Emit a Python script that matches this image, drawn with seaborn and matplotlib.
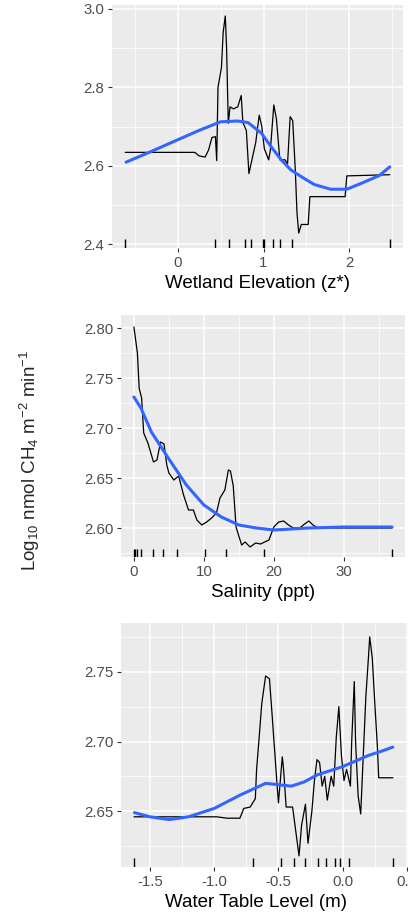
import matplotlib
matplotlib.use('Agg')
import matplotlib.pyplot as plt
import seaborn as sns
import numpy as np
from matplotlib.ticker import MultipleLocator

# Partial dependence values
elev_x = [-0.61, 0.20, 0.25, 0.32, 0.36, 0.40, 0.44, 0.455, 0.47, 0.51, 0.53, 0.555, 0.57, 0.59, 0.61,
          0.65, 0.70, 0.74, 0.76, 0.80, 0.83, 0.87, 0.91, 0.95, 0.98, 1.01, 1.06, 1.08, 1.12, 1.15,
          1.19, 1.25, 1.28, 1.31, 1.34, 1.37, 1.39, 1.41, 1.44, 1.52, 1.54, 1.95, 1.97, 2.47]
elev_y = [2.634, 2.634, 2.625, 2.622, 2.64, 2.672, 2.674, 2.613, 2.80, 2.85, 2.94, 2.982, 2.90, 2.708, 2.75,
          2.745, 2.75, 2.779, 2.71, 2.69, 2.58, 2.62, 2.66, 2.729, 2.70, 2.643, 2.615, 2.64, 2.755, 2.72,
          2.615, 2.615, 2.605, 2.725, 2.715, 2.589, 2.479, 2.428, 2.45, 2.45, 2.521, 2.521, 2.574, 2.577]
elev_smooth_x = [-0.6, -0.3, 0, 0.25, 0.5, 0.7, 0.82, 0.975, 1.09, 1.21, 1.32, 1.44, 1.59, 1.78, 1.97, 2.16, 2.35, 2.47]
elev_smooth_y = [2.609, 2.637, 2.666, 2.690, 2.712, 2.714, 2.710, 2.683, 2.648, 2.614, 2.589, 2.572, 2.552,
                 2.540, 2.540, 2.557, 2.575, 2.597]
elev_rug = [-0.61, 0.43, 0.60, 0.79, 0.85, 0.99, 1.01, 1.11, 1.19, 1.33, 2.47]

sal_x = [0, 0.5, 0.75, 1.1, 1.4, 2.0, 2.8, 3.3, 3.8, 4.3, 4.7, 5.0, 5.7, 6.4, 7.1, 7.8, 8.5, 9.0, 9.7, 10.4,
         11.1, 11.8, 12.3, 13.0, 13.5, 13.8, 14.2, 14.6, 15.4, 15.9, 16.6, 17.4, 18.1, 19.3, 20.0, 20.7,
         21.4, 22.1, 22.8, 23.7, 24.4, 25.0, 25.6, 26.3, 36.9]
sal_y = [2.801, 2.775, 2.74, 2.73, 2.695, 2.685, 2.666, 2.668, 2.686, 2.684, 2.663, 2.655, 2.648, 2.652,
         2.633, 2.618, 2.618, 2.608, 2.603, 2.606, 2.610, 2.615, 2.630, 2.638, 2.658, 2.657, 2.642, 2.601,
         2.583, 2.586, 2.581, 2.585, 2.584, 2.588, 2.601, 2.606, 2.607, 2.603, 2.600, 2.600, 2.604, 2.607,
         2.603, 2.600, 2.600]
sal_smooth_x = [0, 1, 2.5, 5, 7.5, 10, 12.5, 15, 17.5, 20, 22.5, 25, 30, 36.9]
sal_smooth_y = [2.731, 2.720, 2.696, 2.669, 2.643, 2.623, 2.611, 2.603, 2.600, 2.598, 2.599, 2.600, 2.601, 2.601]
sal_rug = [0.0, 0.2, 0.4, 1.0, 2.7, 4.2, 6.1, 10.1, 13.2, 18.6, 36.9]

wt_x = [-1.624, -0.98, -0.90, -0.80, -0.77, -0.72, -0.68, -0.67, -0.65, -0.63, -0.60, -0.57, -0.55, -0.53,
        -0.51, -0.50, -0.47, -0.46, -0.44, -0.39, -0.37, -0.34, -0.32, -0.29, -0.27, -0.24, -0.22, -0.20,
        -0.18, -0.16, -0.14, -0.12, -0.09, -0.07, -0.05, -0.03, -0.01, 0.01, 0.03, 0.06, 0.07, 0.09, 0.10,
        0.12, 0.14, 0.16, 0.18, 0.20, 0.21, 0.23, 0.25, 0.27, 0.28, 0.39]
wt_y = [2.646, 2.646, 2.645, 2.645, 2.652, 2.653, 2.659, 2.680, 2.703, 2.727, 2.747, 2.745, 2.720, 2.694,
        2.668, 2.656, 2.689, 2.680, 2.653, 2.653, 2.639, 2.618, 2.640, 2.655, 2.627, 2.650, 2.672, 2.687,
        2.685, 2.668, 2.675, 2.658, 2.675, 2.668, 2.703, 2.725, 2.690, 2.672, 2.680, 2.668, 2.700, 2.743,
        2.700, 2.661, 2.648, 2.690, 2.732, 2.760, 2.775, 2.760, 2.727, 2.696, 2.674, 2.674]
wt_smooth_x = [-1.62, -1.5, -1.35, -1.2, -1.0, -0.8, -0.6, -0.5, -0.4, -0.3, -0.2, -0.1, 0.0, 0.1, 0.2, 0.3, 0.39]
wt_smooth_y = [2.649, 2.646, 2.644, 2.646, 2.652, 2.6615, 2.670, 2.669, 2.668, 2.671, 2.676, 2.679, 2.682,
               2.686, 2.690, 2.693, 2.696]
wt_rug = [-1.62, -0.70, -0.48, -0.38, -0.29, -0.19, -0.13, -0.06, -0.02, 0.05, 0.39]

sns.set_theme(style='darkgrid', rc={
    'axes.facecolor': '#EBEBEB',
    'grid.color': 'white',
    'xtick.color': '#333333',
    'ytick.color': '#333333',
    'xtick.labelcolor': '#4D4D4D',
    'ytick.labelcolor': '#4D4D4D',
    'axes.unicode_minus': False,
})
plt.rcParams['font.family'] = ['Liberation Sans', 'DejaVu Sans']
plt.rcParams['mathtext.fontset'] = 'custom'
plt.rcParams['mathtext.rm'] = 'Liberation Sans'
plt.rcParams['mathtext.it'] = 'Liberation Sans:italic'

W, H = 408, 917
fig = plt.figure(figsize=(W / 100, H / 100), dpi=100)


def make_axes(left, top, right, bottom):
    return fig.add_axes([left / W, 1 - bottom / H, (right - left) / W, (bottom - top) / H])


def draw_panel(ax, x, y, sx, sy, rug, xlim, ylim, xmaj, ymaj, xlabel, yfmt):
    sns.lineplot(x=x, y=y, ax=ax, color='black', lw=0.9, sort=False, estimator=None)
    sns.lineplot(x=sx, y=sy, ax=ax, color='#3366FF', lw=2.2, sort=False, estimator=None)
    sns.rugplot(x=rug, ax=ax, height=0.035, color='black', lw=0.9)
    ax.set_xlim(*xlim)
    ax.set_ylim(*ylim)
    ax.xaxis.set_major_locator(MultipleLocator(xmaj))
    ax.xaxis.set_minor_locator(MultipleLocator(xmaj / 2))
    ax.yaxis.set_major_locator(MultipleLocator(ymaj))
    ax.yaxis.set_minor_locator(MultipleLocator(ymaj / 2))
    ax.yaxis.set_major_formatter(plt.FormatStrFormatter(yfmt))
    ax.grid(which='major', color='white', lw=1.1)
    ax.grid(which='minor', color='white', lw=0.55)
    ax.tick_params(which='major', length=3.0, width=0.8, labelsize=10.8, pad=2.5, bottom=True, left=True)
    ax.tick_params(which='minor', length=0, bottom=False, left=False)
    for s in ax.spines.values():
        s.set_visible(False)
    ax.set_xlabel(xlabel, fontsize=13.5, color='black', labelpad=4)
    ax.set_ylabel('')


ax1 = make_axes(112, 5, 403, 248)
draw_panel(ax1, elev_x, elev_y, elev_smooth_x, elev_smooth_y, elev_rug,
           (-0.764, 2.624), (2.39, 3.01), 1, 0.2, 'Wetland Elevation (z*)', '%.1f')

ax2 = make_axes(121, 315, 405, 557)
draw_panel(ax2, sal_x, sal_y, sal_smooth_x, sal_smooth_y, sal_rug,
           (-1.845, 38.75), (2.571, 2.813), 10, 0.05, 'Salinity (ppt)', '%.2f')

ax3 = make_axes(121, 623, 408, 867)
draw_panel(ax3, wt_x, wt_y, wt_smooth_x, wt_smooth_y, wt_rug,
           (-1.725, 0.508), (2.61, 2.785), 0.5, 0.05, 'Water Table Level (m)', '%.2f')
ax3.xaxis.label.set_x(0.47)

fig.text(30 / W, 1 - 460 / H, r'Log$_{10}$ nmol CH$_4$ m$^{-2}$ min$^{-1}$',
         rotation=90, ha='center', va='center', fontsize=13.5)

fig.savefig('out.png', dpi=100)
